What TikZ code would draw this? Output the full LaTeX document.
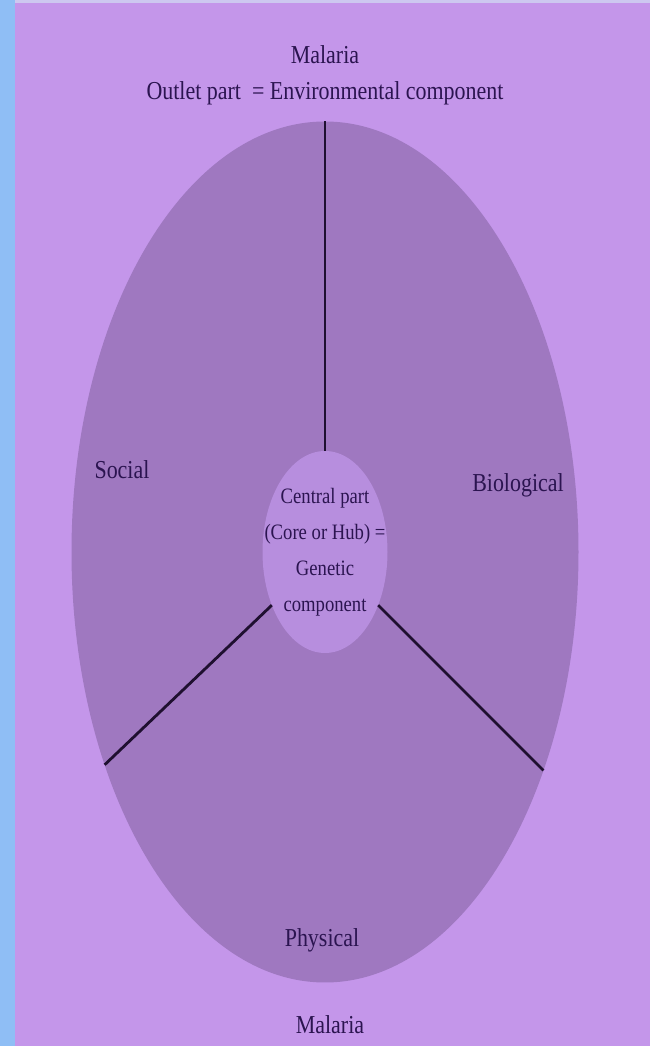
\documentclass[tikz,border=0pt]{standalone}
\usepackage{fontspec}
\setmainfont[FakeStretch=0.85]{Liberation Serif}
\usepackage{tikz}
\usetikzlibrary{shapes.geometric}
\definecolor{lavanda}{RGB}{196,150,234}
\definecolor{lateral}{RGB}{143,190,245}
\definecolor{franja}{RGB}{205,200,240}
\definecolor{anillo}{RGB}{159,120,192}
\definecolor{nucleo}{RGB}{183,142,222}
\definecolor{tinta}{RGB}{43,20,80}
\definecolor{trazo}{RGB}{31,16,48}

\begin{document}
\begin{tikzpicture}[
  zona/.style={ellipse, inner sep=0pt, outer sep=0pt},
  etiqueta/.style={font=\fontsize{14.7}{17}\selectfont, text=tinta,
    inner sep=0pt},
  divisor/.style={draw=trazo, line width=1.6pt},
]
  % Fondo
  \fill[lavanda] (0,0) rectangle (13,20.92);
  \fill[lateral] (0,0) rectangle (0.3,20.92);
  \fill[franja] (0.3,20.86) rectangle (13,20.92);
  % Elipse y nucleo
  \node[zona, fill=anillo, minimum width=10.14cm, minimum height=17.22cm]
    (ring) at (6.5,9.88) {};
  \node[zona, fill=nucleo, minimum width=2.5cm, minimum height=4.04cm]
    (hub) at (6.5,9.88) {};
  % Divisores
  \draw[divisor] (hub.north) -- (ring.north);
  \draw[divisor] (hub.-135) -- (ring.-136);
  \draw[divisor] (hub.-45) -- (ring.-45);
  % Textos
  \node[etiqueta] (toptitle) at (6.5,19.82) {Malaria};
  \node[etiqueta] (outlet) at (6.5,19.06)
    {Outlet part~ = Environmental component};
  \node[etiqueta] (social) at (2.44,11.52) {Social};
  \node[etiqueta] (bio) at (10.36,11.22) {Biological};
  \node[etiqueta] (physical) at (6.44,2.12) {Physical};
  \node[etiqueta] (bottitle) at (6.6,0.42) {Malaria};
  \node[etiqueta, font=\fontsize{12.5}{20.5}\selectfont, align=center]
    (hubtext) at (hub) {Central part\\(Core or Hub) =\\Genetic\\component};
\end{tikzpicture}
\end{document}
